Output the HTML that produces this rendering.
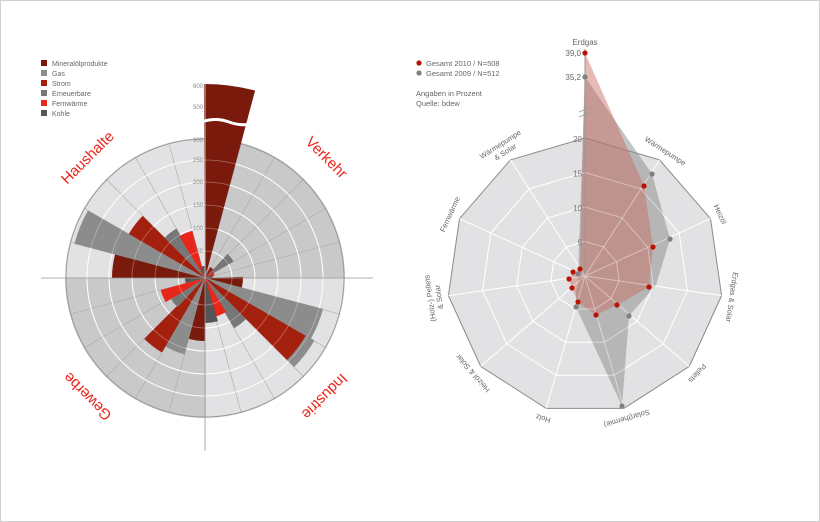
<!DOCTYPE html>
<html><head><meta charset="utf-8"><style>
html,body{margin:0;padding:0;background:#fff}
#w{width:818px;height:520px;border:1px solid #cfcfcf;position:relative;overflow:hidden}
svg{position:absolute;left:0;top:0}
text{font-family:"Liberation Sans",sans-serif}
</style></head><body><div id="w">
<svg id="s" width="820" height="522" viewBox="0 0 820 522"></svg>
</div>
<script>
var s=document.getElementById('s'),h='';
var cx=204,cy=277;
function wedge(a,span,r,col){return '<circle cx="'+cx+'" cy="'+cy+'" r="'+(r/2)+'" fill="none" stroke="'+col+'" stroke-width="'+r+'" pathLength="360" stroke-dasharray="'+span+' '+(360-span)+'" transform="rotate('+(a-90)+' '+cx+' '+cy+')"/>';}
h+=wedge(270,90,140,'#e2e2e4');h+=wedge(0,90,140,'#c9c9c9');h+=wedge(90,90,140,'#e2e2e4');h+=wedge(180,90,140,'#c9c9c9');
for(var k=0;k<24;k++){var t=k*15*Math.PI/180;h+='<line x1="'+cx+'" y1="'+cy+'" x2="'+(cx+140*Math.sin(t))+'" y2="'+(cy-140*Math.cos(t))+'" stroke="#a9a9a9" stroke-width="0.6"/>';}
[27,50,73,96,118].forEach(function(r){h+='<circle cx="'+cx+'" cy="'+cy+'" r="'+r+'" fill="none" stroke="#fff" stroke-width="1"/>';});
h+='<circle cx="'+cx+'" cy="'+cy+'" r="139" fill="none" stroke="#9a9a9a" stroke-width="1"/>';
var MR='#7a1a0c',GA='#8c8c8c',ST='#a3200f',ER='#777',FW='#e8261c',KO='#555';
var bars=[
[270,93,MR],[285,135,GA],[300,88,ST],[315,57,ER],[330,49,FW],[345,12,KO],
[0,194,MR],[15,8,GA],[30,12,ST],[45,33,ER],[60,10,FW],[75,8,KO],
[90,38,MR],[105,122,GA],[120,126,GA],[120,116,ST],[135,58,ER],[150,40,FW],[165,45,KO],
[180,63,MR],[195,79,GA],[210,86,ST],[225,40,ER],[240,46,FW],[255,20,KO]];
bars.forEach(function(b){h+=wedge(b[0],15,b[1],b[2]);});
[27,50,73,96,118].forEach(function(r){h+='<circle cx="'+cx+'" cy="'+cy+'" r="'+r+'" fill="none" stroke="#fff" stroke-opacity="0.35" stroke-width="0.8"/>';});
h+='<path d="M200,121 Q215,116 228,121 T258,122" stroke="#fff" stroke-width="3" fill="none"/>';
h+='<line x1="40" y1="277" x2="372" y2="277" stroke="#999" stroke-width="0.8"/>';
h+='<line x1="204" y1="277" x2="204" y2="450" stroke="#999" stroke-width="0.8"/>';
h+='<line x1="204" y1="80" x2="204" y2="277" stroke="#d8eef0" stroke-width="0.8"/>';
[[50,250],[100,227],[150,204],[200,181],[250,159],[300,139],[500,106],[600,85]].forEach(function(p){h+='<text x="202" y="'+(p[1]+2)+'" font-size="6" fill="#888" text-anchor="end">'+p[0]+'</text>';});
var lg=[['Mineralölprodukte',MR],['Gas',GA],['Strom',ST],['Erneuerbare',ER],['Fernwärme',FW],['Kohle',KO]];
lg.forEach(function(l,i){var y=59+i*10;h+='<rect x="40" y="'+y+'" width="6" height="6" fill="'+l[1]+'"/><text x="51" y="'+(y+6)+'" font-size="7" fill="#666">'+l[0]+'</text>';});
function ql(t,x,y,r){h+='<text x="'+x+'" y="'+y+'" font-size="15" fill="#e8261c" text-anchor="middle" transform="rotate('+r+' '+x+' '+y+')">'+t+'</text>';}
ql('Haushalte',90,160,-45);ql('Verkehr',322,160,45);ql('Gewerbe',90,392,225);ql('Industrie',320,392,135);
var X=584,Y=275,R=138,N=11;
function pt(k,r){var t=k*2*Math.PI/N;return [X+r*Math.sin(t),Y-r*Math.cos(t)];}
function poly(r){var a=[];for(var k=0;k<N;k++)a.push(pt(k,r).join(','));return a.join(' ');}
h+='<polygon points="'+poly(R)+'" fill="#e2e2e4" stroke="#8a8a8a" stroke-width="1"/>';
[34.5,69,103.5].forEach(function(r){h+='<polygon points="'+poly(r)+'" fill="none" stroke="#fff" stroke-width="1"/>';});
for(var k=0;k<N;k++){var p=pt(k,R);h+='<line x1="'+X+'" y1="'+Y+'" x2="'+p[0]+'" y2="'+p[1]+'" stroke="#fff" stroke-width="1"/>';}
var gp=[[584,76],[651,173],[669,238],[655,284],[628,315],[621,405],[575,306],[575,290],[577,282],[578,276],[577,273]];
var rp=[[584,52],[643,185],[652,246],[648,286],[616,304],[595,314],[577,301],[571,287],[568,278],[572,271],[579,268]];
function pp(a){return a.map(function(p){return p.join(',')}).join(' ');}
h+='<polygon points="'+pp(gp)+'" fill="#8a8a8a" fill-opacity="0.5"/>';
h+='<polygon points="'+pp(rp)+'" fill="#c8685e" fill-opacity="0.45"/>';
for(var k=0;k<N;k++){var p=pt(k,R);h+='<line x1="'+X+'" y1="'+Y+'" x2="'+p[0]+'" y2="'+p[1]+'" stroke="#fff" stroke-opacity="0.35" stroke-width="1"/>';}
[34.5,69,103.5].forEach(function(r){h+='<polygon points="'+poly(r)+'" fill="none" stroke="#fff" stroke-opacity="0.35" stroke-width="1"/>';});
h+='<line x1="584" y1="48" x2="584" y2="275" stroke="#999" stroke-width="1"/>';
h+='<path d="M578,111 L590,106 M578,116 L590,111" stroke="#999" stroke-width="0.8"/>';
[[20,138],[15,172.5],[10,207],[5,241.5]].forEach(function(p){h+='<text x="581" y="'+(p[1]+3)+'" font-size="8" fill="#777" text-anchor="end">'+p[0]+'</text>';});
h+='<text x="580" y="55" font-size="8" fill="#666" text-anchor="end">39,0</text><text x="580" y="79" font-size="8" fill="#666" text-anchor="end">35,2</text>';
h+='<text x="584" y="44" font-size="8" fill="#666" text-anchor="middle">Erdgas</text>';
gp.forEach(function(p,i){if(i==0||i==1||i==2||i==4||i==5||i==6||i==10)h+='<circle cx="'+p[0]+'" cy="'+p[1]+'" r="2.6" fill="#808080"/>';});
rp.forEach(function(p){h+='<circle cx="'+p[0]+'" cy="'+p[1]+'" r="2.6" fill="#b81206"/>';});
var labs=[null,['Wärmepumpe'],['Heizöl'],['Erdgas & Solar'],['Pellets'],['Solar(thermie)'],['Holz'],['Heizöl & Solar'],['(Holz-) Pellets','& Solar'],['Fernwärme'],['Wärmepumpe','& Solar']];
for(var k=1;k<N;k++){var a=k*360/N,L=labs[k];var s2='<g transform="translate('+X+' '+Y+') rotate('+a+')">';
 if(L.length==1)s2+='<text x="0" y="-146" font-size="7.5" fill="#666" text-anchor="middle">'+L[0]+'</text>';
 else s2+='<text x="0" y="-154" font-size="7.5" fill="#666" text-anchor="middle">'+L[0]+'</text><text x="0" y="-145" font-size="7.5" fill="#666" text-anchor="middle">'+L[1]+'</text>';
 h+=s2+'</g>';}
h+='<circle cx="418" cy="62" r="2.6" fill="#b81206"/><text x="425" y="65" font-size="7.5" fill="#666">Gesamt 2010 / N=508</text>';
h+='<circle cx="418" cy="72" r="2.6" fill="#808080"/><text x="425" y="75" font-size="7.5" fill="#666">Gesamt 2009 / N=512</text>';
h+='<text x="415" y="95" font-size="7.5" fill="#666">Angaben in Prozent</text><text x="415" y="105" font-size="7.5" fill="#666">Quelle: bdew</text>';
s.innerHTML=h;
</script>
</body></html>
